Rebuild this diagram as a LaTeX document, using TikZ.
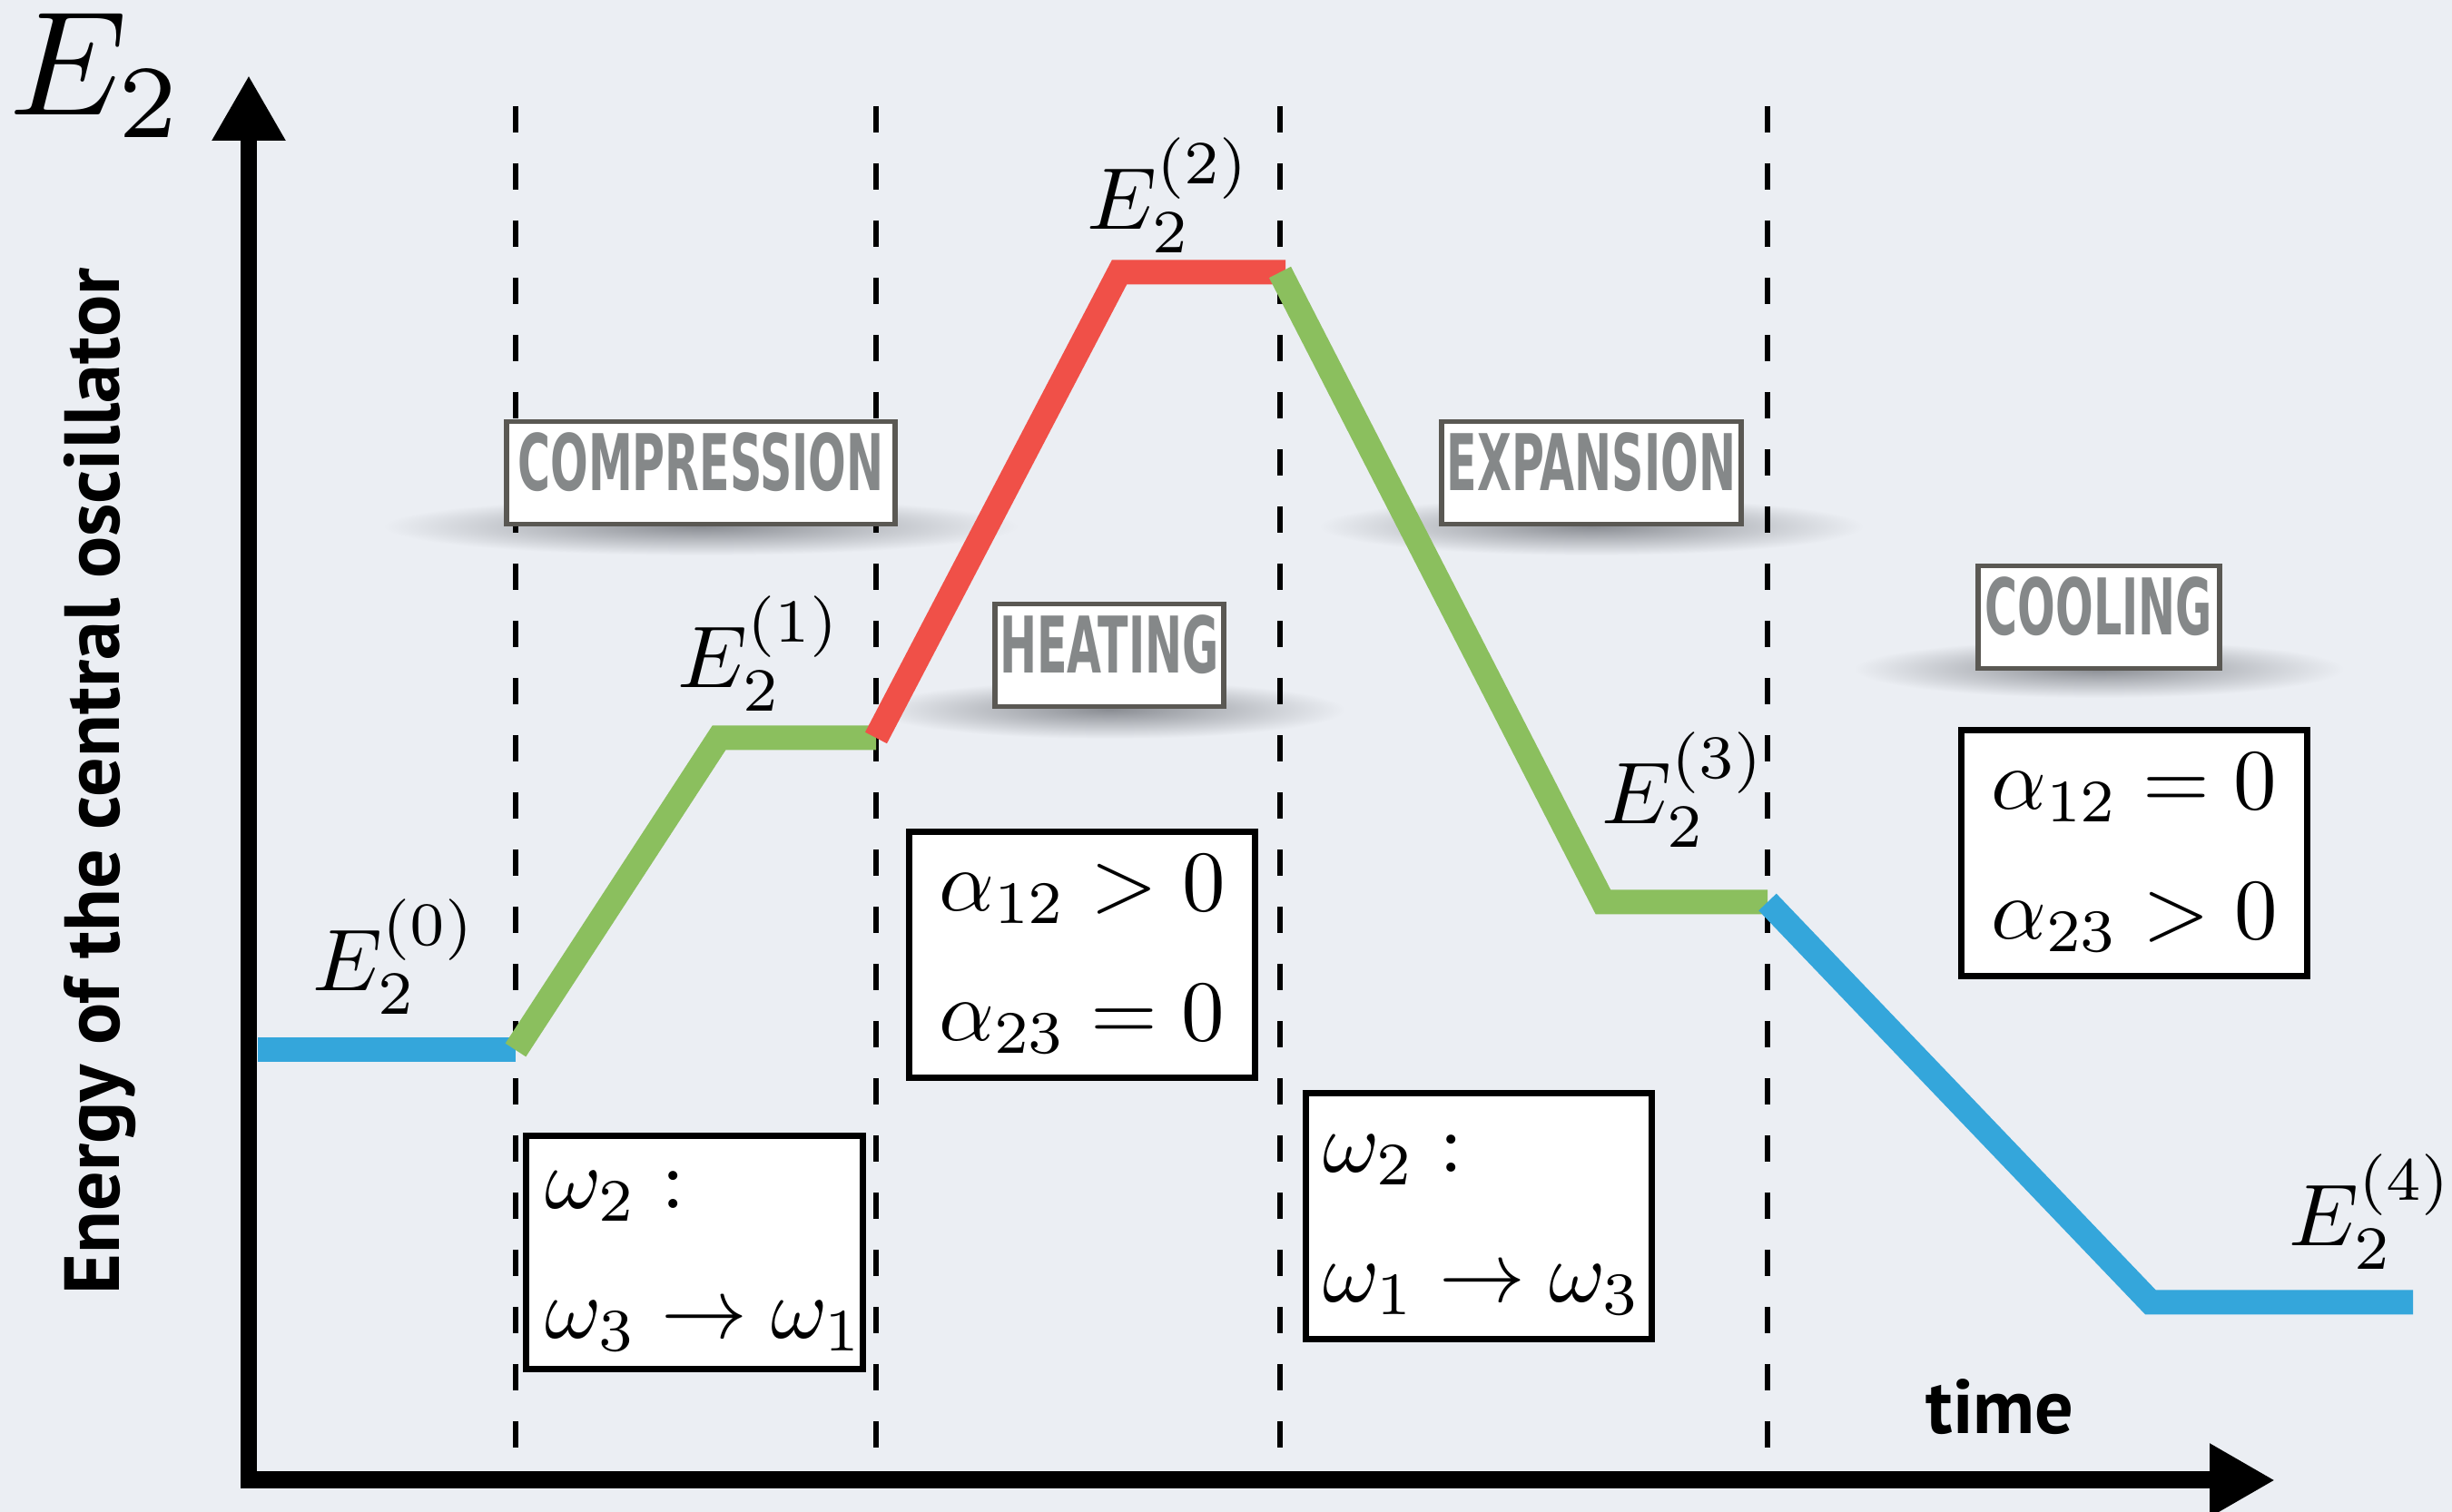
\RequirePackage{fix-cm}
\documentclass[tikz,border=0pt]{standalone}
\usepackage{graphicx}
\usepackage{fontspec}
\usetikzlibrary{arrows.meta}
\newfontfamily\stagefont[FakeStretch=0.57]{DejaVu Sans}
\newfontfamily\axisfont{PT Sans}
\definecolor{bgcol}{RGB}{235,238,243}
\definecolor{coldblue}{RGB}{52,166,219}
\definecolor{workgreen}{RGB}{139,191,94}
\definecolor{hotred}{RGB}{240,80,72}
\definecolor{framegray}{RGB}{90,88,83}
\definecolor{labelgray}{RGB}{133,136,137}
\definecolor{shadowgray}{RGB}{138,141,147}
\newcommand{\twolines}[2]{\scalebox{2.7}{\begin{tabular}{@{}l@{}}#1\\[3.1pt]#2\end{tabular}}}
\begin{document}
\begin{tikzpicture}[x=1cm,y=1cm,
        axis/.style={line width=5.4pt,{Triangle[width=0.76cm,length=0.72cm]}-{Triangle[width=0.76cm,length=0.72cm]}},
        divider/.style={line width=1.5pt,dash pattern=on 0.29cm off 0.34cm},
        level/.style={line width=0.27cm},
        stage/.style={draw=framegray,line width=1.6pt,fill=white,text=labelgray,
            font=\stagefont\bfseries\fontsize{24.5}{24.5}\selectfont,
            text height=0.63cm,text depth=0.24cm,inner ysep=0.13cm,inner xsep=0pt},
        cond/.style={draw,line width=2pt,fill=white,inner sep=0pt,
            minimum width=3.81cm,minimum height=2.71cm}]
    \useasboundingbox (0,0) rectangle (27.01,16.66);
    \fill[bgcol] (0,0) rectangle (27.01,16.66);
    % shadows under the stage labels
    \foreach \cx/\cy/\rx in {7.72/10.86/3.5, 12.22/8.84/2.6, 17.53/10.86/3.0, 23.12/9.29/2.7}
        \shade[inner color=shadowgray,outer color=bgcol] (\cx,\cy) ellipse ({\rx} and 0.32);
    % phase borders
    \foreach \xd [count=\i] in {5.68,9.65,14.10,19.47} {
        \coordinate (top\i) at (\xd,15.49);
        \coordinate (bot\i) at (\xd,0.35);
        \draw[divider] (top\i) -- (bot\i);
    }
    % axes
    \coordinate (ytip) at (2.74,15.83);
    \coordinate (xtip) at (25.06,0.35);
    \draw[axis] (ytip) |- (xtip);
    \node (E) at (1.07,15.83) {\scalebox{4.65}{$E_2$}};
    \node[rotate=90,font=\axisfont\bfseries\fontsize{24.5}{24.5}\selectfont] (ylab) at (1.10,8.05) {Energy of the central oscillator};
    \node[font=\axisfont\bfseries\fontsize{24}{24}\selectfont] (time) at (22.03,1.16) {time};
    % energy of the central oscillator
    \coordinate (a0) at (2.84,5.09);
    \coordinate (a1) at (5.68,5.09);
    \coordinate (b1) at (7.92,8.53);
    \coordinate (b2) at (9.65,8.53);
    \coordinate (c1) at (12.33,13.66);
    \coordinate (c2) at (14.16,13.66);
    \coordinate (d0) at (14.10,13.66);
    \coordinate (d1) at (17.66,6.72);
    \coordinate (d2) at (19.47,6.72);
    \coordinate (e1) at (23.69,2.31);
    \coordinate (e2) at (26.58,2.31);
    \draw[level,coldblue] (a0) -- (a1);
    \draw[level,workgreen] (a1) -- (b1) -- (b2);
    \draw[level,hotred] (b2) -- (c1) -- (c2);
    \draw[level,workgreen] (d0) -- (d1) -- (d2);
    \draw[level,coldblue] (d2) -- (e1) -- (e2);
    \node (E0) at (4.35,6.12) {\scalebox{2.75}{$E_2^{(0)}$}};
    \node (E1) at (8.37,9.46) {\scalebox{2.75}{$E_2^{(1)}$}};
    \node (E2) at (12.88,14.51) {\scalebox{2.75}{$E_2^{(2)}$}};
    \node (E3) at (18.55,7.96) {\scalebox{2.75}{$E_2^{(3)}$}};
    \node (E4) at (26.12,3.31) {\scalebox{2.75}{$E_2^{(4)}$}};
    % stages
    \node[stage,minimum width=4.28cm] (comp) at (7.72,11.45) {COMPRESSION};
    \node[stage,minimum width=2.52cm] (heat) at (12.22,9.44) {HEATING};
    \node[stage,minimum width=3.30cm] (expa) at (17.53,11.45) {EXPANSION};
    \node[stage,minimum width=2.66cm] (cool) at (23.12,9.86) {COOLING};
    % conditions
    \node[cond,minimum width=3.65cm,minimum height=2.50cm] (w1) at (7.65,2.86) {\hspace{0.21cm}\twolines{$\omega_2 :$}{$\omega_3 \rightarrow \omega_1$}\hspace{-0.07cm}};
    \node[cond] (c12) at (11.92,6.14) {\twolines{$\alpha_{12} > 0$}{$\alpha_{23} = 0$}};
    \node[cond] (w2) at (16.29,3.26) {\hspace{0.08cm}\twolines{$\omega_2 :$}{$\omega_1 \rightarrow \omega_3$}};
    \node[cond] (c23) at (23.51,7.26) {\twolines{$\alpha_{12} = 0$}{$\alpha_{23} > 0$}};
\end{tikzpicture}
\end{document}
